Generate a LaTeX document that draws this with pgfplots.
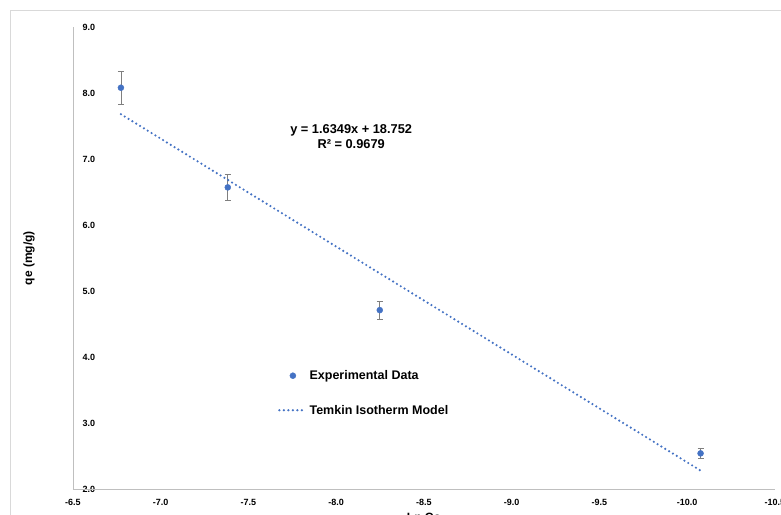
\documentclass[border=0pt]{standalone}
\usepackage{pgfplots}
\pgfplotsset{compat=1.18}
\usepackage{fontspec}
\setmainfont{Liberation Sans}
\definecolor{xlblue}{HTML}{4472C4}
\definecolor{errgray}{HTML}{7F7F7F}
\definecolor{axgray}{HTML}{BFBFBF}
\definecolor{bordergray}{HTML}{D9D9D9}
\begin{document}
\begin{tikzpicture}[x=1pt,y=1pt]
\useasboundingbox (0,0) rectangle (781,514);
\fill[white] (0,0) rectangle (781,514);
\draw[bordergray, line width=0.8pt] (10,-20) -- (10,504) -- (800,504);
\begin{axis}[
  at={(73pt,25pt)}, anchor=south west, scale only axis,
  width=702pt, height=462pt,
  x dir=reverse, xmin=-10.5, xmax=-6.5, ymin=2, ymax=9,
  xtick={-10.5,-10,...,-6.5}, ytick={2,3,...,9},
  axis line style={draw=none}, major tick length=0pt,
  tick label style={font=\fontsize{9}{10}\selectfont\bfseries},
  /pgf/number format/.cd, fixed, fixed zerofill, precision=1, assume math mode=true, /pgfplots/.cd,
  yticklabel style={anchor=west, xshift=6pt},
  xticklabel style={yshift=-6.5pt},
  xlabel={Ln Co}, ylabel={qe (mg/g)},
  every axis x label/.style={at={(axis description cs:0.5,0)}, anchor=north, yshift=-21pt, font=\fontsize{12}{14}\selectfont\bfseries},
  every axis y label/.style={at={([xshift=-44pt]axis description cs:0,0.5)}, anchor=center, rotate=90, font=\fontsize{12}{14}\selectfont\bfseries},
  legend style={draw=none, fill=none, at={([xshift=-3pt,yshift=-1pt]axis description cs:0.292,0.21)}, anchor=west, row sep=20pt,
    font=\fontsize{12.5}{15}\selectfont\bfseries, cells={anchor=west}},
]
\draw[axgray, line width=0.8pt] (axis description cs:0,0) -- (axis description cs:1,0);
\draw[axgray, line width=0.8pt] (axis description cs:0,0) -- (axis description cs:0,1);
\addplot[only marks, mark=*, mark size=3pt, color=xlblue, mark options={fill=xlblue, draw=xlblue},
  legend image code/.code={\draw[xlblue, fill=xlblue] (13.5pt,0pt) circle (3pt);},
  error bars/.cd, y dir=both, y explicit,
  error bar style={errgray, line width=0.8pt},
  error mark options={rotate=90, mark size=3pt, errgray, line width=0.8pt}]
  table[x=x, y=y, y error=e] {
x y e
-6.773 8.08 0.25
-7.382 6.57 0.20
-8.248 4.71 0.14
-10.076 2.54 0.08
};
\addlegendentry{Experimental Data}
\addplot[xlblue, line width=2.4pt, dash pattern=on 0pt off 4.5pt, line cap=round,
  legend image code/.code={\draw[xlblue, line width=2.4pt, dash pattern=on 0pt off 4.5pt, line cap=round] (0pt,0pt) -- (27pt,0pt);}]
  coordinates {(-6.773,7.679) (-10.076,2.279)};
\addlegendentry{Temkin Isotherm Model}
\node[align=center, font=\fontsize{12.8}{14.7}\selectfont\bfseries, inner sep=0pt]
  at (axis cs:-8.085,7.34) {y = 1.6349x + 18.752\\R² = 0.9679};
\end{axis}
\end{tikzpicture}
\end{document}
